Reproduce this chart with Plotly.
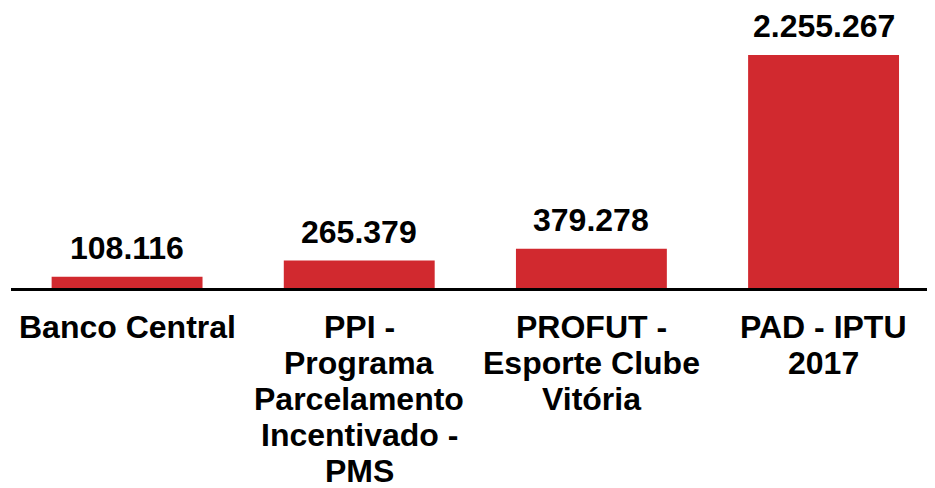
import plotly.graph_objects as go

# Datos
categorias = ["Banco Central",
              "PPI - Programa Parcelamento Incentivado - PMS",
              "PROFUT - Esporte Clube Vitória",
              "PAD - IPTU 2017"]
valores = [108116, 265379, 379278, 2255267]
etiquetas = [["Banco Central"],
             ["PPI -", "Programa", "Parcelamento", "Incentivado -", "PMS"],
             ["PROFUT -", "Esporte Clube", "Vitória"],
             ["PAD - IPTU", "2017"]]

ROJO = "#D1292F"
FUENTE = "Liberation Sans, Arial, sans-serif"
INTERLINEA = 36  # px entre líneas de las etiquetas del eje

fig = go.Figure()
fig.add_trace(go.Bar(x=categorias, y=valores, width=0.65,
                     marker=dict(color=ROJO, line=dict(width=0))))

# Etiquetas de valor encima de cada barra
for c, v in zip(categorias, valores):
    txt = f"{v:,}".replace(",", ".")
    fig.add_annotation(x=c, y=v, text=f"<b>{txt}</b>", showarrow=False,
                       yanchor="bottom", yshift=9,
                       font=dict(size=32, color="black", family=FUENTE))

# Etiquetas de categoría (una anotación por línea, interlineado compacto)
for c, lineas in zip(categorias, etiquetas):
    for i, linea in enumerate(lineas):
        fig.add_annotation(x=c, y=0, text=f"<b>{linea}</b>", showarrow=False,
                           yanchor="top", yshift=-19 - INTERLINEA * i,
                           font=dict(size=32, color="black", family=FUENTE))

# El body de la página tiene 8px de margen: figura algo menor que la ventana
fig.update_layout(
    width=927, height=480,
    margin=dict(l=3, r=0, t=12, b=200),
    plot_bgcolor="white", paper_bgcolor="white",
    showlegend=False,
    font=dict(family=FUENTE, color="black"),
)
fig.update_xaxes(showticklabels=False, showline=True, linecolor="black",
                 linewidth=3, ticks="", range=[-0.5, 3.48], showgrid=False)
fig.update_yaxes(visible=False, range=[0, 2594000], showgrid=False)

fig.write_html("out.html")
